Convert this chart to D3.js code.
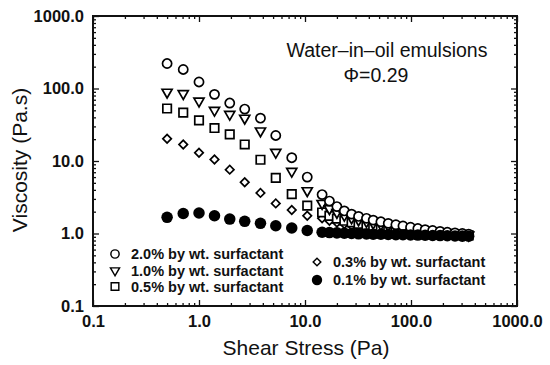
<!DOCTYPE html>
<html>
<head>
<meta charset="utf-8">
<script src="https://cdn.jsdelivr.net/npm/d3@7/dist/d3.min.js"></script>
<style>
  body{margin:0;background:#fff;}
  svg{font-family:"Liberation Sans",Arial,sans-serif;}
</style>
</head>
<body>
<main></main>
<script>
// shear stress (Pa), shared by all series
const stress=[0.5,0.71,1.0,1.4,1.95,2.7,3.8,5.3,7.5,10.5,
  14.5,17,20,23.5,27.5,32,38,44,52,61,72,84,99,116,136,160,188,220,260,305,350];
// viscosity (Pa.s)
const visc20=[221,183,123,83,63,52,39,22.5,11.1,6.0,
  3.44,2.8,2.35,2.05,1.85,1.72,1.62,1.53,1.45,1.38,1.32,1.27,1.22,1.17,1.13,1.10,1.07,1.04,1.02,1.0,0.98];
const visc10=[89,85,67,50,44,39,26,13.2,7.2,3.9,
  2.6,2.2,1.95,1.78,1.64,1.54,1.46,1.39,1.33,1.28,1.23,1.19,1.15,1.12,1.09,1.06,1.03,1.01,0.99,0.97,0.95];
const visc05=[53,46.5,36.4,28.5,23.3,16.9,10.4,5.85,3.5,2.42,
  1.95,1.75,1.6,1.5,1.42,1.36,1.31,1.26,1.22,1.18,1.15,1.12,1.09,1.07,1.05,1.03,1.01,0.99,0.97,0.96,0.94];
const visc03=[20.3,16.9,13.0,10.5,7.6,5.1,3.63,2.6,2.11,1.76,
  1.62,1.5,1.42,1.35,1.29,1.24,1.2,1.16,1.13,1.1,1.08,1.06,1.04,1.02,1.0,0.99,0.97,0.96,0.95,0.94,0.93];
const visc01=[1.67,1.89,1.92,1.76,1.58,1.47,1.38,1.28,1.19,1.1,
  1.04,1.03,1.02,1.01,1.0,0.99,0.985,0.98,0.975,0.97,0.965,0.96,0.955,0.95,0.945,0.94,0.935,0.93,0.925,0.92,0.915];
const legendLeft=["2.0% by wt. surfactant","1.0% by wt. surfactant","0.5% by wt. surfactant"];
const legendRight=["0.3% by wt. surfactant","0.1% by wt. surfactant"];
const majorTicks=[0.1,1,10,100,1000];
const tickLabels=["0.1","1.0","10.0","100.0","1000.0"];

const w=550,h=365;
const pLeft=93,pRight=517,pTop=16,pBottom=306;

const svg=d3.select("main").append("svg").attr("width",w).attr("height",h);

const x=d3.scaleLog().domain([0.1,1000]).range([pLeft,pRight]);
const y=d3.scaleLog().domain([0.1,1000]).range([pBottom,pTop]);

const minorTicks=[];
majorTicks.slice(0,4).forEach(d=>{for(let k=2;k<10;k++) minorTicks.push(d*k);});

// axes on all four sides, ticks pointing inward
const addAxis=(axisFn,scale,tr,labels)=>{
  svg.append("g").attr("transform",tr)
     .call(axisFn(scale).tickValues(minorTicks).tickSizeInner(-3).tickSizeOuter(0).tickFormat(""));
  svg.append("g").attr("transform",tr)
     .call(axisFn(scale).tickValues(majorTicks).tickSizeInner(-6).tickSizeOuter(0).tickPadding(labels?9:0)
       .tickFormat((d,i)=>labels?tickLabels[i]:""));
};
addAxis(d3.axisBottom,x,"translate(0,"+pBottom+")",true);
addAxis(d3.axisLeft,y,"translate("+pLeft+",0)",true);
addAxis(d3.axisTop,x,"translate(0,"+pTop+")",false);
addAxis(d3.axisRight,y,"translate("+pRight+",0)",false);
svg.selectAll(".domain").remove();
svg.selectAll(".tick line").attr("stroke","#111").attr("stroke-width",1.3);
svg.selectAll(".tick text").attr("fill","#111").style("font-size","16.5px").style("font-weight","bold").style("font-family","'Liberation Sans',Arial,sans-serif");

svg.append("rect").attr("x",pLeft).attr("y",pTop).attr("width",pRight-pLeft).attr("height",pBottom-pTop)
   .attr("fill","none").attr("stroke","#111").attr("stroke-width",2);

svg.append("text").attr("x",306).attr("y",355).attr("text-anchor","middle")
   .style("font-size","21px").attr("fill","#111").text("Shear Stress (Pa)");
svg.append("text").attr("transform","translate(27,160) rotate(-90)").attr("text-anchor","middle")
   .style("font-size","21px").attr("fill","#111").text("Viscosity (Pa.s)");

svg.append("text").attr("x",387).attr("y",57).attr("text-anchor","middle")
   .style("font-size","19.5px").attr("fill","#111").text("Water\u2013in\u2013oil emulsions");
svg.append("text").attr("x",376).attr("y",82).attr("text-anchor","middle")
   .style("font-size","19.5px").attr("fill","#111").text("\u03a6=0.29");

// marker shapes
const shapes={
  circle:d3.symbol().type(d3.symbolCircle).size(66)(),
  tri:d3.symbol().type(d3.symbolTriangle).size(44)(),
  square:d3.symbol().type(d3.symbolSquare).size(72)(),
  diamond:d3.symbol().type(d3.symbolSquare).size(36)(),
  dot:d3.symbol().type(d3.symbolCircle).size(104)()
};
const series=[
  {vals:visc03,shape:"diamond",rot:45,fill:"#fff"},
  {vals:visc05,shape:"square",rot:0,fill:"#fff"},
  {vals:visc10,shape:"tri",rot:180,fill:"#fff"},
  {vals:visc20,shape:"circle",rot:0,fill:"#fff"},
  {vals:visc01,shape:"dot",rot:0,fill:"#000"}
];
series.forEach(s=>{
  svg.append("g").selectAll("path").data(s.vals).enter().append("path")
     .attr("d",shapes[s.shape])
     .attr("transform",(d,i)=>"translate("+x(stress[i])+","+y(d)+") rotate("+s.rot+")")
     .attr("fill",s.fill).attr("stroke","#000").attr("stroke-width",s.shape=="dot"?0:1.7);
});

// legend
const lg=[
  {t:legendLeft[0],shape:"circle",rot:0,fill:"#fff",mx:115,my:254},
  {t:legendLeft[1],shape:"tri",rot:180,fill:"#fff",mx:115,my:270.5},
  {t:legendLeft[2],shape:"square",rot:0,fill:"#fff",mx:115,my:286.5},
  {t:legendRight[0],shape:"diamond",rot:45,fill:"#fff",mx:317,my:262},
  {t:legendRight[1],shape:"dot",rot:0,fill:"#000",mx:317,my:280}
];
lg.forEach(l=>{
  svg.append("path").attr("d",shapes[l.shape])
     .attr("transform","translate("+l.mx+","+l.my+") rotate("+l.rot+") scale(0.9)")
     .attr("fill",l.fill).attr("stroke","#000").attr("stroke-width",l.shape=="dot"?0:1.6);
  svg.append("text").attr("x",l.mx+16).attr("y",l.my+5)
     .style("font-size","14.5px").style("font-weight","bold").attr("fill","#111").text(l.t);
});
</script>
</body>
</html>
